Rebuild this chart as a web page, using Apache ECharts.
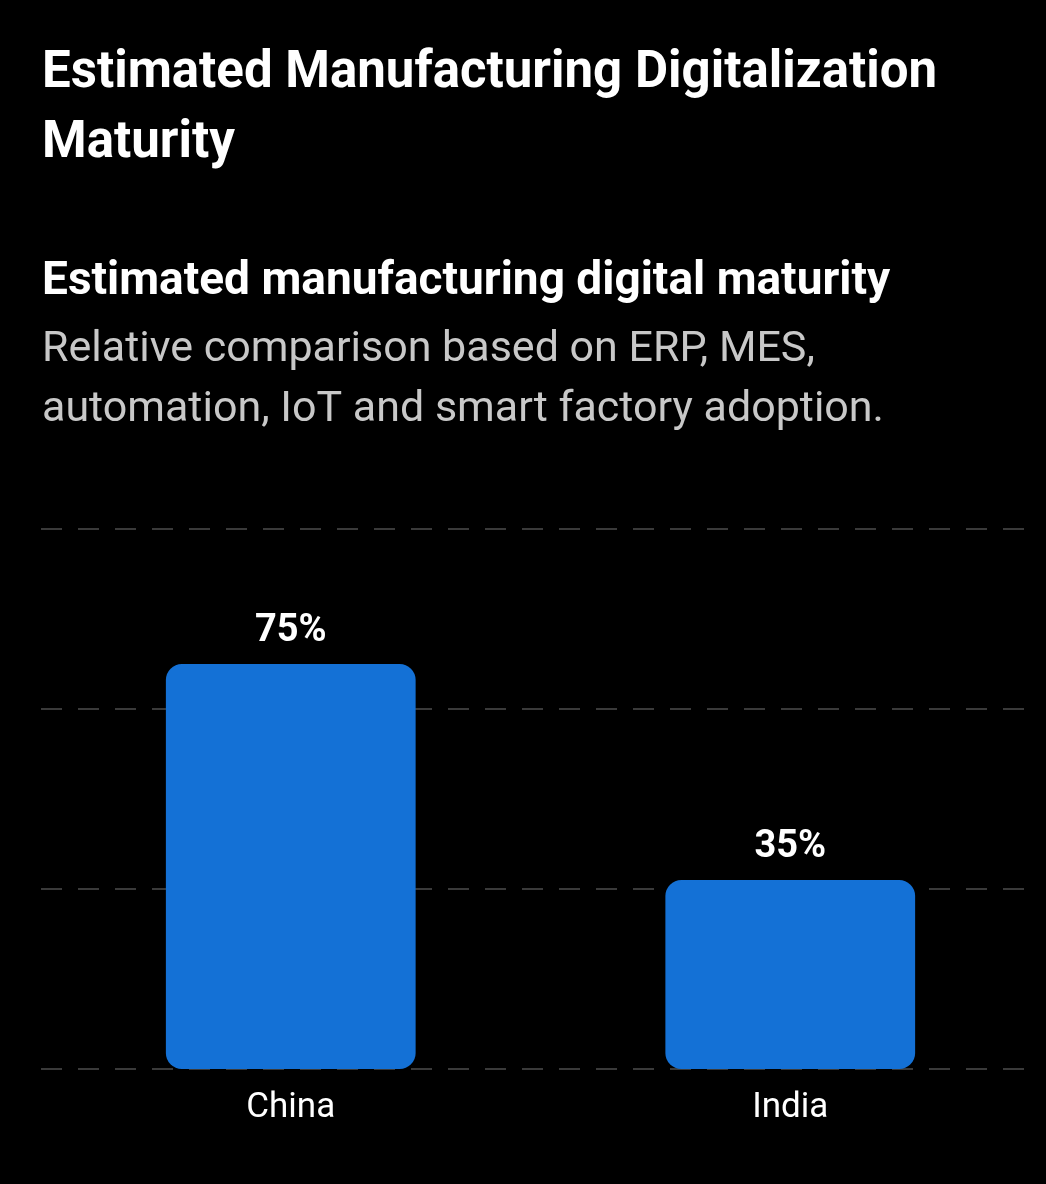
<!DOCTYPE html>
<html>
<head>
<meta charset="utf-8">
<script src="https://cdn.jsdelivr.net/npm/echarts@6/dist/echarts.min.js"></script>
<style>
  html, body { margin: 0; padding: 0; background: #000; }
  #chart { width: 1046px; height: 1184px; }
</style>
</head>
<body>
<div id="chart"></div>
<script>
const categories = ['China', 'India'];
const maturity = [75, 35];
const yTicks = [0, 100 / 3, 200 / 3, 100];

const titleText = 'Estimated Manufacturing Digitalization\nMaturity';
const subTitle = 'Estimated manufacturing digital maturity';
const description = 'Relative comparison based on ERP, MES,\nautomation, IoT and smart factory adoption.';

const myChart = echarts.init(document.getElementById('chart'));
window.onresize = function () {
  myChart.resize();
};

myChart.setOption({
  backgroundColor: '#000',
  textStyle: { fontFamily: 'Roboto' },
  title: [{
    text: titleText,
    left: 37,
    top: 34,
    textStyle: { color: '#fff', fontSize: 51, fontWeight: 'bold', lineHeight: 70, fontFamily: 'Roboto' }
  }, {
    text: subTitle,
    left: 37,
    top: 247,
    textStyle: { color: '#fff', fontSize: 46, fontWeight: 'bold', lineHeight: 60, fontFamily: 'Roboto' }
  }, {
    text: description,
    left: 37,
    top: 315,
    textStyle: { color: '#c8c8c8', fontSize: 43, fontWeight: 'normal', lineHeight: 60, fontFamily: 'Roboto' }
  }],
  grid: {
    left: 41,
    right: 6,
    top: 529,
    bottom: 115
  },
  xAxis: {
    type: 'category',
    data: categories,
    axisLine: { show: false },
    axisTick: { show: false },
    axisLabel: { color: '#fff', fontSize: 35, margin: 22, fontFamily: 'Roboto' }
  },
  yAxis: {
    type: 'value',
    min: yTicks[0],
    max: yTicks[yTicks.length - 1],
    interval: yTicks[1],
    axisLabel: { show: false },
    axisLine: { show: false },
    axisTick: { show: false },
    splitLine: {
      lineStyle: { color: '#3a3a3a', width: 2, type: [21, 16] }
    }
  },
  series: [{
    type: 'bar',
    data: maturity,
    barWidth: '50%',
    itemStyle: { color: '#1471d6', borderRadius: 16 },
    label: {
      show: true,
      position: 'top',
      distance: 14,
      formatter: '{c}%',
      color: '#fff',
      fontSize: 38,
      fontWeight: 'bold',
      fontFamily: 'Roboto'
    }
  }]
});
</script>
</body>
</html>
